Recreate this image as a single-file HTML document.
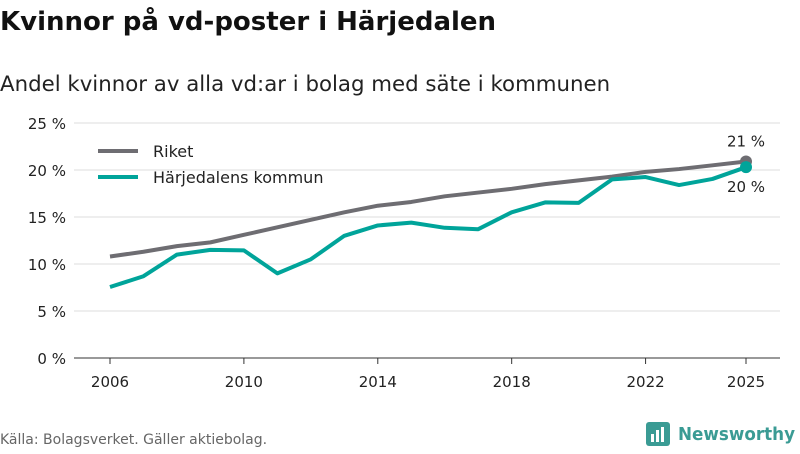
<!DOCTYPE html>
<html><head><meta charset="utf-8"><style>
body{margin:0;width:800px;height:450px;background:#fff;font-family:"DejaVu Sans","Liberation Sans",sans-serif;overflow:hidden}
</style></head><body>
<svg id="c" width="800" height="450" xmlns="http://www.w3.org/2000/svg">
<text x="0" y="30" font-size="26" font-weight="bold" fill="#111">Kvinnor på vd-poster i Härjedalen</text>
<text x="0" y="91" font-size="21.3" fill="#222">Andel kvinnor av alla vd:ar i bolag med säte i kommunen</text>
<g id="grid"></g><g id="series"></g>
<g>
<line x1="98" y1="151" x2="138" y2="151" stroke="#6e6d72" stroke-width="4"/>
<text x="153" y="157" font-size="16" fill="#222">Riket</text>
<line x1="98" y1="177" x2="138" y2="177" stroke="#00a49a" stroke-width="4"/>
<text x="153" y="183" font-size="16" fill="#222">Härjedalens kommun</text>
</g>
<text x="0" y="444" font-size="14" fill="#666">Källa: Bolagsverket. Gäller aktiebolag.</text>
<g>
<rect x="646" y="422" width="24" height="24" rx="3" fill="#3a9b94"/>
<rect x="651" y="434" width="3" height="8" fill="#fff"/><rect x="656" y="430" width="3" height="12" fill="#fff"/><rect x="661" y="427" width="3" height="15" fill="#fff"/>
<text x="678" y="440" font-size="18" font-weight="bold" fill="#3a9b94" textLength="117" lengthAdjust="spacingAndGlyphs">Newsworthy</text>
</g>
</svg>
<script>
const years=[2006,2007,2008,2009,2010,2011,2012,2013,2014,2015,2016,2017,2018,2019,2020,2021,2022,2023,2024,2025];
const riket=[10.8,11.3,11.9,12.3,13.1,13.9,14.7,15.5,16.2,16.6,17.2,17.6,18.0,18.5,18.9,19.3,19.8,20.1,20.5,20.9];
const harjedalen=[7.55,8.7,11.0,11.5,11.45,9.0,10.5,13.0,14.1,14.4,13.85,13.7,15.5,16.55,16.5,19.0,19.25,18.4,19.05,20.3];
const yTicks=[0,5,10,15,20,25];
const xTicks=[2006,2010,2014,2018,2022,2025];
const NS="http://www.w3.org/2000/svg";
const x=v=>110+(v-2006)*(636/19);
const y=v=>358-v*9.4;
function mk(t,a,p){const e=document.createElementNS(NS,t);for(const k in a)e.setAttribute(k,a[k]);p.appendChild(e);return e;}
const g=document.getElementById('grid'),s=document.getElementById('series');
yTicks.forEach(v=>{
 const l=mk('line',{x1:74,x2:780,y1:y(v),y2:y(v),stroke:v===0?'#333':'#ddd','stroke-width':1},g);
 
 
 const t=mk('text',{x:66,y:y(v)+6,'text-anchor':'end','font-size':15,fill:'#222'},g);t.textContent=v+' %';
 
 
});
xTicks.forEach(v=>{
 const l=mk('line',{x1:x(v),x2:x(v),y1:358,y2:364,stroke:'#333'},g);
 
 
 const t=mk('text',{x:x(v),y:387,'text-anchor':'middle','font-size':15,fill:'#222'},g);t.textContent=v;
 
 
});
function line(arr,col,name,labY){
 const p=mk('polyline',{points:arr.map((v,i)=>x(years[i])+','+y(v)).join(' '),fill:'none',stroke:col,'stroke-width':4,'stroke-linejoin':'round'},s);
 
 
 const n=arr.length-1;
 const c=mk('circle',{cx:x(years[n]),cy:y(arr[n]),r:6,fill:col},s);
 
 
 const t=mk('text',{x:x(years[n]),y:y(arr[n])+labY,'text-anchor':'middle','font-size':15,fill:'#222'},s);
 t.textContent=Math.round(arr[n])+' %';
 
 
}
line(riket,'#6e6d72','riket',-15);
line(harjedalen,'#00a49a','harjedalen',25);
</script>
</body></html>
